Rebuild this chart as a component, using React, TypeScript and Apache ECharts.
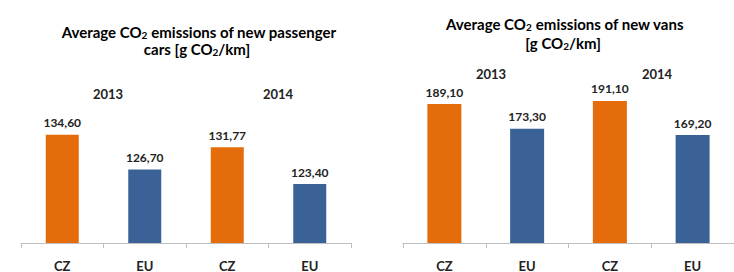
import React, { useEffect, useRef } from "react";
import * as echarts from "echarts";

const categories = ["CZ", "EU", "CZ", "EU"];
const carValues = [134.6, 126.7, 131.77, 123.4];
const vanValues = [189.1, 173.3, 191.1, 169.2];
const years = ["2013", "2014"];
const barColors = ["#E46C0A", "#3A6297", "#E46C0A", "#3A6297"];

const FONT = "Lato, 'Open Sans', sans-serif";
const fmt = (v: number) => v.toFixed(2).replace(".", ",");

function titleText(x: number, y: number, parts: [string, boolean][]) {
  const text = parts.map(([t, sub]) => (sub ? `{s|${t}}` : `{b|${t}}`)).join("");
  return {
    type: "text",
    x,
    y,
    style: {
      text,
      align: "center",
      textAlign: "center",
      verticalAlign: "middle",
      textVerticalAlign: "middle",
      rich: {
        b: { fontFamily: FONT, fontWeight: "bold", fontSize: 15, color: "#222", lineHeight: 15, verticalAlign: "middle" },
        s: { fontFamily: FONT, fontWeight: "bold", fontSize: 10, color: "#222", lineHeight: 8, verticalAlign: "bottom" },
      },
    },
  };
}

function plainText(x: number, y: number, t: string) {
  return {
    type: "text",
    x,
    y,
    style: {
      text: t,
      fontFamily: FONT,
      fontWeight: "bold",
      fontSize: 13,
      fill: "#222",
      align: "center",
      textAlign: "center",
      verticalAlign: "middle",
      textVerticalAlign: "middle",
    },
  };
}

export default function App() {
  const ref = useRef<HTMLDivElement>(null);
  useEffect(() => {
    if (!ref.current) return;
    const chart = echarts.init(ref.current, null, { renderer: "svg" });
    const axisCommon = {
      type: "category" as const,
      data: categories,
      axisLine: { show: true, lineStyle: { color: "#BFBFBF", width: 1 } },
      axisTick: { show: true, length: 5, lineStyle: { color: "#BFBFBF" } },
      axisLabel: { margin: 16, fontFamily: FONT, fontWeight: "bold", fontSize: 13, color: "#222" },
    };
    const barSeries = (idx: number, values: number[], bw: number) => ({
      type: "bar",
      xAxisIndex: idx,
      yAxisIndex: idx,
      barWidth: bw,
      data: values.map((v, i) => ({ value: v, itemStyle: { color: barColors[i] } })),
      label: {
        show: true,
        position: "top",
        distance: 6,
        fontFamily: FONT,
        fontWeight: "bold",
        fontSize: 12,
        color: "#222",
        formatter: (p: any) => fmt(p.value),
      },
    });
    chart.setOption({
      animation: false,
      backgroundColor: "#fff",
      grid: [
        { left: 21, width: 330, top: 111, bottom: 23 },
        { left: 403, width: 339, top: 87, bottom: 21 },
      ],
      xAxis: [
        { ...axisCommon, gridIndex: 0 },
        { ...axisCommon, gridIndex: 1 },
      ],
      yAxis: [
        { type: "value", gridIndex: 0, min: 110, max: 140, show: false, splitLine: { show: false } },
        { type: "value", gridIndex: 1, min: 100, max: 200, show: false, splitLine: { show: false } },
      ],
      series: [barSeries(0, carValues, 33), barSeries(1, vanValues, 34)],
      graphic: [
        titleText(199, 32, [["Average CO", false], ["2", true], [" emissions of new passenger", false]]),
        titleText(197, 49, [["cars [g CO", false], ["2", true], ["/km]", false]]),
        titleText(565, 24, [["Average CO", false], ["2", true], [" emissions of new vans", false]]),
        titleText(563, 43, [["[g CO", false], ["2", true], ["/km]", false]]),
        plainText(108, 94, years[0]),
        plainText(278, 94, years[1]),
        plainText(491, 74, years[0]),
        plainText(657, 74, years[1]),
      ],
    });
    return () => chart.dispose();
  }, []);
  return (
    <div
      ref={ref}
      style={{ position: "fixed", left: 0, top: 0, width: 734, height: 272, overflow: "hidden" }}
    />
  );
}
